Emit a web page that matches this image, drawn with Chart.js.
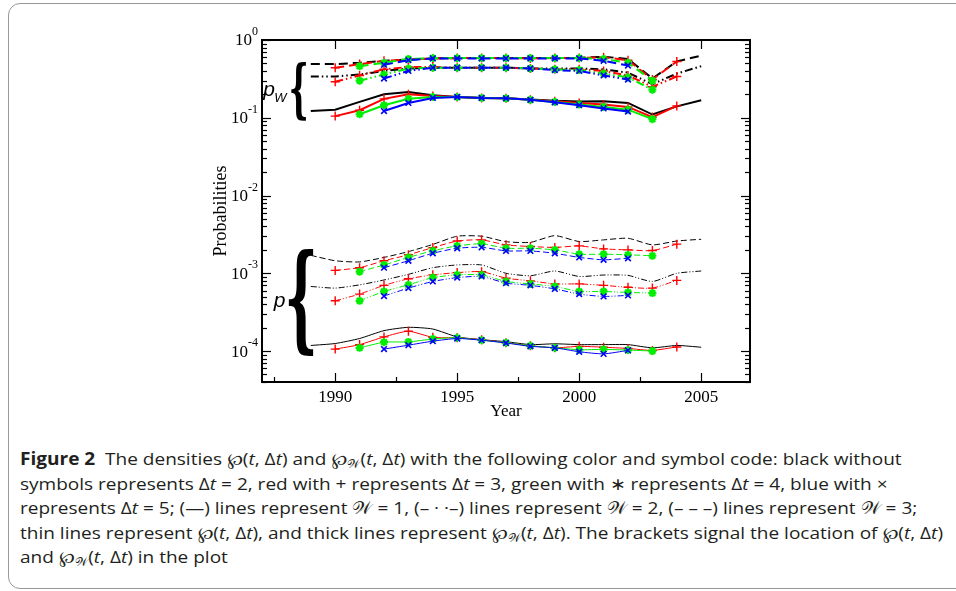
<!DOCTYPE html>
<html>
<head>
<meta charset="utf-8">
<script src="https://cdn.jsdelivr.net/npm/chart.js@4.4.1/dist/chart.umd.min.js"></script>
<style>
html,body{margin:0;padding:0;background:#fff;}
body{width:956px;height:591px;position:relative;overflow:hidden;}
#frame{position:absolute;left:8px;top:3px;width:1000px;height:586px;border:1px solid #999;border-radius:12px;box-sizing:border-box;}
#wrap{position:absolute;left:0;top:0;width:956px;height:430px;}
#cap{position:absolute;left:20px;top:447px;font-family:"Open Sans","Noto Sans",sans-serif;font-size:17px;line-height:24.5px;color:#231f20;white-space:nowrap;}
#cap div{transform-origin:0 50%;width:max-content;}
#cap b{font-weight:700;}
#cap sub{font-size:11px;vertical-align:-3px;line-height:0;}
</style>
</head>
<body>
<div id="frame"></div>
<div id="wrap"><canvas id="c" width="956" height="430"></canvas></div>
<div id="cap">
<div><b>Figure 2</b>&nbsp; The densities ℘(<i>t</i>, Δ<i>t</i>) and ℘<sub>𝒲</sub>(<i>t</i>, Δ<i>t</i>) with the following color and symbol code: black without</div>
<div>symbols represents Δ<i>t</i> = 2, red with + represents Δ<i>t</i> = 3, green with ∗ represents Δ<i>t</i> = 4, blue with ×</div>
<div>represents Δ<i>t</i> = 5; (—) lines represent 𝒲 = 1, (– · ·–) lines represent 𝒲 = 2, (– – –) lines represent 𝒲 = 3;</div>
<div id="longest">thin lines represent ℘(<i>t</i>, Δ<i>t</i>), and thick lines represent ℘<sub>𝒲</sub>(<i>t</i>, Δ<i>t</i>). The brackets signal the location of ℘(<i>t</i>, Δ<i>t</i>)</div>
<div>and ℘<sub>𝒲</sub>(<i>t</i>, Δ<i>t</i>) in the plot</div>
</div>
<script>
// years covered by each window length
var yearsK = [1989,1990,1991,1992,1993,1994,1995,1996,1997,1998,1999,2000,2001,2002,2003,2004,2005]; // dt=2
var yearsR = [1990,1991,1992,1993,1994,1995,1996,1997,1998,1999,2000,2001,2002,2003,2004];           // dt=3
var yearsG = [1991,1992,1993,1994,1995,1996,1997,1998,1999,2000,2001,2002,2003];                     // dt=4
var yearsB = [1992,1993,1994,1995,1996,1997,1998,1999,2000,2001,2002];                               // dt=5

// pW, W=1 (solid, thick)
var pwSolidK = [0.122,0.127,0.160,0.200,0.215,0.195,0.185,0.180,0.178,0.172,0.165,0.162,0.163,0.155,0.110,0.140,0.168];
var pwSolidR = [0.105,0.125,0.175,0.200,0.190,0.185,0.180,0.178,0.170,0.163,0.155,0.148,0.138,0.102,0.142];
var pwSolidG = [0.111,0.145,0.175,0.185,0.185,0.180,0.178,0.170,0.160,0.148,0.138,0.127,0.096];
var pwSolidB = [0.122,0.155,0.180,0.185,0.180,0.178,0.170,0.158,0.145,0.132,0.120];
// pW, W=2 (dash-dot-dot, thick)
var pwDotK = [0.34,0.34,0.36,0.40,0.43,0.44,0.44,0.44,0.44,0.43,0.43,0.43,0.42,0.38,0.27,0.37,0.46];
var pwDotR = [0.29,0.35,0.42,0.45,0.45,0.44,0.44,0.44,0.43,0.42,0.42,0.40,0.35,0.25,0.34];
var pwDotG = [0.30,0.36,0.43,0.44,0.44,0.44,0.44,0.43,0.42,0.41,0.37,0.33,0.23];
var pwDotB = [0.32,0.40,0.44,0.44,0.44,0.44,0.43,0.41,0.40,0.35,0.31];
// pW, W=3 (dashed, thick)
var pwDashK = [0.49,0.49,0.51,0.54,0.56,0.58,0.585,0.585,0.585,0.585,0.585,0.59,0.61,0.57,0.32,0.53,0.63];
var pwDashR = [0.44,0.49,0.54,0.56,0.58,0.585,0.585,0.585,0.58,0.585,0.585,0.60,0.55,0.31,0.53];
var pwDashG = [0.46,0.51,0.57,0.585,0.585,0.585,0.585,0.585,0.585,0.585,0.57,0.51,0.30];
var pwDashB = [0.48,0.55,0.58,0.58,0.58,0.58,0.58,0.58,0.58,0.54,0.47];

// p, W=1 (solid, thin)
var pSolidK = [1.18e-4,1.25e-4,1.45e-4,1.83e-4,2.02e-4,1.92e-4,1.52e-4,1.40e-4,1.32e-4,1.21e-4,1.24e-4,1.21e-4,1.21e-4,1.21e-4,1.10e-4,1.18e-4,1.12e-4];
var pSolidR = [1.06e-4,1.21e-4,1.52e-4,1.80e-4,1.50e-4,1.48e-4,1.40e-4,1.28e-4,1.17e-4,1.10e-4,1.15e-4,1.12e-4,1.08e-4,1.02e-4,1.13e-4];
var pSolidG = [1.10e-4,1.30e-4,1.31e-4,1.43e-4,1.48e-4,1.38e-4,1.28e-4,1.17e-4,1.10e-4,1.04e-4,1.05e-4,1.03e-4,1.00e-4];
var pSolidB = [1.06e-4,1.19e-4,1.34e-4,1.45e-4,1.38e-4,1.27e-4,1.15e-4,1.10e-4,0.98e-4,0.92e-4,1.02e-4];
// p, W=2 (dash-dot-dot, thin)
var pDotK = [6.77e-4,6.45e-4,7.10e-4,8.20e-4,9.70e-4,1.18e-3,1.28e-3,1.28e-3,1.00e-3,9.30e-4,1.07e-3,9.10e-4,9.50e-4,9.40e-4,7.85e-4,1.00e-3,1.07e-3];
var pDotR = [4.43e-4,5.40e-4,7.00e-4,8.50e-4,9.55e-4,1.02e-3,1.05e-3,8.66e-4,8.00e-4,7.30e-4,7.30e-4,7.00e-4,6.60e-4,6.45e-4,8.10e-4];
var pDotG = [4.43e-4,5.84e-4,7.11e-4,8.80e-4,9.55e-4,9.55e-4,7.85e-4,7.30e-4,6.77e-4,5.84e-4,5.84e-4,5.67e-4,5.56e-4];
var pDotB = [5.10e-4,6.45e-4,7.85e-4,8.80e-4,9.10e-4,7.47e-4,7.00e-4,6.30e-4,5.40e-4,5.04e-4,5.20e-4];
// p, W=3 (dashed, thin)
var pDashK = [1.70e-3,1.45e-3,1.40e-3,1.60e-3,1.90e-3,2.35e-3,3.00e-3,3.00e-3,2.55e-3,2.50e-3,3.05e-3,2.56e-3,2.69e-3,2.82e-3,2.32e-3,2.60e-3,2.74e-3];
var pDashR = [1.09e-3,1.18e-3,1.45e-3,1.73e-3,2.14e-3,2.60e-3,2.69e-3,2.32e-3,2.21e-3,2.15e-3,2.25e-3,2.06e-3,2.00e-3,1.96e-3,2.37e-3];
var pDashG = [1.05e-3,1.28e-3,1.60e-3,1.95e-3,2.25e-3,2.40e-3,2.10e-3,2.10e-3,2.00e-3,1.76e-3,1.76e-3,1.73e-3,1.68e-3];
var pDashB = [1.18e-3,1.45e-3,1.81e-3,2.10e-3,2.16e-3,1.94e-3,1.94e-3,1.81e-3,1.60e-3,1.49e-3,1.56e-3];

var yearTicks = [1990,1995,2000,2005];
var yearMinor = [1987.5,1992.5,1997.5,2002.5];

var serif = '"Liberation Serif","Times New Roman",serif';

// colour / marker per window length
var styleB = {color:'#0000ff', pointStyle:'crossRot', radius:4, pw:1.6};
var styleG = {color:'#00ee00', pointStyle:'star', radius:4, pw:2.2};
var styleR = {color:'#ff0000', pointStyle:'cross', radius:4.5, pw:1.4};
var styleK = {color:'#000000', pointStyle:false, radius:0, pw:1};

var dashThick = {solid:[], dot:[8,3,1.5,3,1.5,3], dash:[9,5]};
var dashThin = {solid:[], dot:[6,2,1,2,1,2], dash:[6,3]};

function ds(years, vals, st, kind, thick) {
  return {
    data: years.map(function(yr, i){ return {x: yr, y: vals[i]}; }),
    borderColor: st.color,
    backgroundColor: st.color,
    borderWidth: thick ? 2 : 1,
    borderDash: (thick ? dashThick : dashThin)[kind],
    pointStyle: st.pointStyle,
    pointRadius: st.radius,
    pointBorderWidth: st.pw,
    pointBorderColor: st.color,
    pointHoverRadius: st.radius,
    tension: thick ? 0 : 0.2,
    fill: false
  };
}

var datasets = [];
// blue first so it ends up on top, black last (drawn underneath)
[[yearsB, styleB, 'B'], [yearsG, styleG, 'G'], [yearsR, styleR, 'R'], [yearsK, styleK, 'K']].forEach(function(s){
  var key = s[2];
  datasets.push(ds(s[0], window['pwSolid'+key], s[1], 'solid', true));
  datasets.push(ds(s[0], window['pwDot'+key], s[1], 'dot', true));
  datasets.push(ds(s[0], window['pwDash'+key], s[1], 'dash', true));
  datasets.push(ds(s[0], window['pSolid'+key], s[1], 'solid', false));
  datasets.push(ds(s[0], window['pDot'+key], s[1], 'dot', false));
  datasets.push(ds(s[0], window['pDash'+key], s[1], 'dash', false));
});

// curly brackets marking the two groups (value ranges on the y axis)
var braces = [
  {label:'p', sub:'W', x:1988.2, top:0.53, bottom:0.092, w:15, font:'bold 60px "DejaVu Serif"', lx:-28, ly:0},
  {label:'p', sub:'', x:1988.1, top:2.15e-3, bottom:8.6e-5, w:25, font:'bold 60px "DejaVu Serif"', lx:-15, ly:0}
];

function line(ctx, x1, y1, x2, y2) {
  ctx.beginPath(); ctx.moveTo(x1, y1); ctx.lineTo(x2, y2); ctx.stroke();
}

var framePlugin = {
  id: 'frameTicks',
  afterDraw: function(chart) {
    var ctx = chart.ctx, a = chart.chartArea, x = chart.scales.x, y = chart.scales.y;
    ctx.save();
    ctx.strokeStyle = '#000';
    ctx.lineWidth = 1.2;
    // log ticks on both vertical sides
    for (var d = -5; d <= 0; d++) {
      for (var m = 1; m <= 9; m++) {
        var v = m * Math.pow(10, d);
        if (v < y.min * 0.999 || v > y.max * 1.001) continue;
        var py = Math.round(y.getPixelForValue(v)) + 0.5;
        var len = m === 1 ? 9 : 5;
        line(ctx, a.left, py, a.left + len, py);
        line(ctx, a.right - len, py, a.right, py);
      }
    }
    yearTicks.forEach(function(t){
      var px = Math.round(x.getPixelForValue(t)) + 0.5;
      line(ctx, px, a.bottom, px, a.bottom - 9);
      line(ctx, px, a.top, px, a.top + 9);
    });
    yearMinor.forEach(function(t){
      var px = Math.round(x.getPixelForValue(t)) + 0.5;
      line(ctx, px, a.bottom, px, a.bottom - 5);
    });
    ctx.lineWidth = 2;
    ctx.strokeRect(a.left, a.top, a.right - a.left, a.bottom - a.top);

    // decade labels 10^k
    ctx.fillStyle = '#000';
    ctx.textBaseline = 'middle';
    ctx.textAlign = 'right';
    for (var k = 0; k >= -4; k--) {
      var yy = y.getPixelForValue(Math.pow(10, k));
      var ex = k === 0 ? '0' : '-' + (-k);
      ctx.font = '12px ' + serif;
      var we = ctx.measureText(ex).width;
      var xr = a.left - 4;
      ctx.fillText(ex, xr, yy - 8);
      ctx.font = '17px ' + serif;
      ctx.fillText('10', xr - we, yy + 1);
    }

    // brackets and their labels
    braces.forEach(function(b){
      var yt = y.getPixelForValue(b.top), yb = y.getPixelForValue(b.bottom);
      var bx = x.getPixelForValue(b.x);
      ctx.font = b.font;
      ctx.textAlign = 'left';
      ctx.textBaseline = 'alphabetic';
      var mt = ctx.measureText('{');
      var h0 = mt.actualBoundingBoxAscent + mt.actualBoundingBoxDescent;
      var w0 = mt.actualBoundingBoxRight + mt.actualBoundingBoxLeft;
      ctx.save();
      ctx.translate(bx, yt);
      ctx.scale(b.w / w0, (yb - yt) / h0);
      ctx.fillText('{', mt.actualBoundingBoxLeft, mt.actualBoundingBoxAscent);
      ctx.restore();
      var cy = (yt + yb) / 2 + b.ly;
      ctx.font = 'italic 21px "Liberation Sans",sans-serif';
      ctx.fillText(b.label, bx + b.lx, cy + 5);
      if (b.sub) {
        ctx.font = 'italic 13px "Liberation Sans",sans-serif';
        ctx.fillText(b.sub, bx + b.lx + 11, cy + 11);
      }
    });
    ctx.restore();
  }
};

var chart = new Chart(document.getElementById('c'), {
  type: 'line',
  data: {datasets: datasets},
  options: {
    responsive: false,
    animation: false,
    devicePixelRatio: 1,
    layout: {padding: {left: 204, right: 206, top: 40, bottom: 3}},
    plugins: {legend: {display: false}, tooltip: {enabled: false}},
    scales: {
      x: {
        type: 'linear', min: 1987, max: 2007,
        grid: {display: false, drawTicks: false},
        border: {display: false},
        afterBuildTicks: function(scale){ scale.ticks = yearTicks.map(function(v){ return {value: v}; }); },
        afterFit: function(scale){ scale.height = 45; },
        ticks: {color: '#000', padding: 5, font: {family: serif, size: 17}, maxRotation: 0,
                callback: function(v){ return String(v); }},
        title: {display: true, text: 'Year', color: '#000', font: {family: serif, size: 17}, padding: {top: 0, bottom: 5}}
      },
      y: {
        type: 'logarithmic', min: 4e-5, max: 1,
        grid: {display: false, drawTicks: false},
        border: {display: false},
        ticks: {display: false},
        afterFit: function(scale){ scale.width = 58; },
        title: {display: true, text: 'Probabilities', color: '#000', font: {family: serif, size: 18}, padding: {top: 6, bottom: 0}}
      }
    }
  },
  plugins: [framePlugin]
});

// narrow the caption: one horizontal squeeze for every line, set by the longest
var capScale = 923 / document.getElementById('longest').getBoundingClientRect().width;
document.querySelectorAll('#cap div').forEach(function(el){
  el.style.transform = 'scaleX(' + capScale + ')';
});
</script>
</body>
</html>
